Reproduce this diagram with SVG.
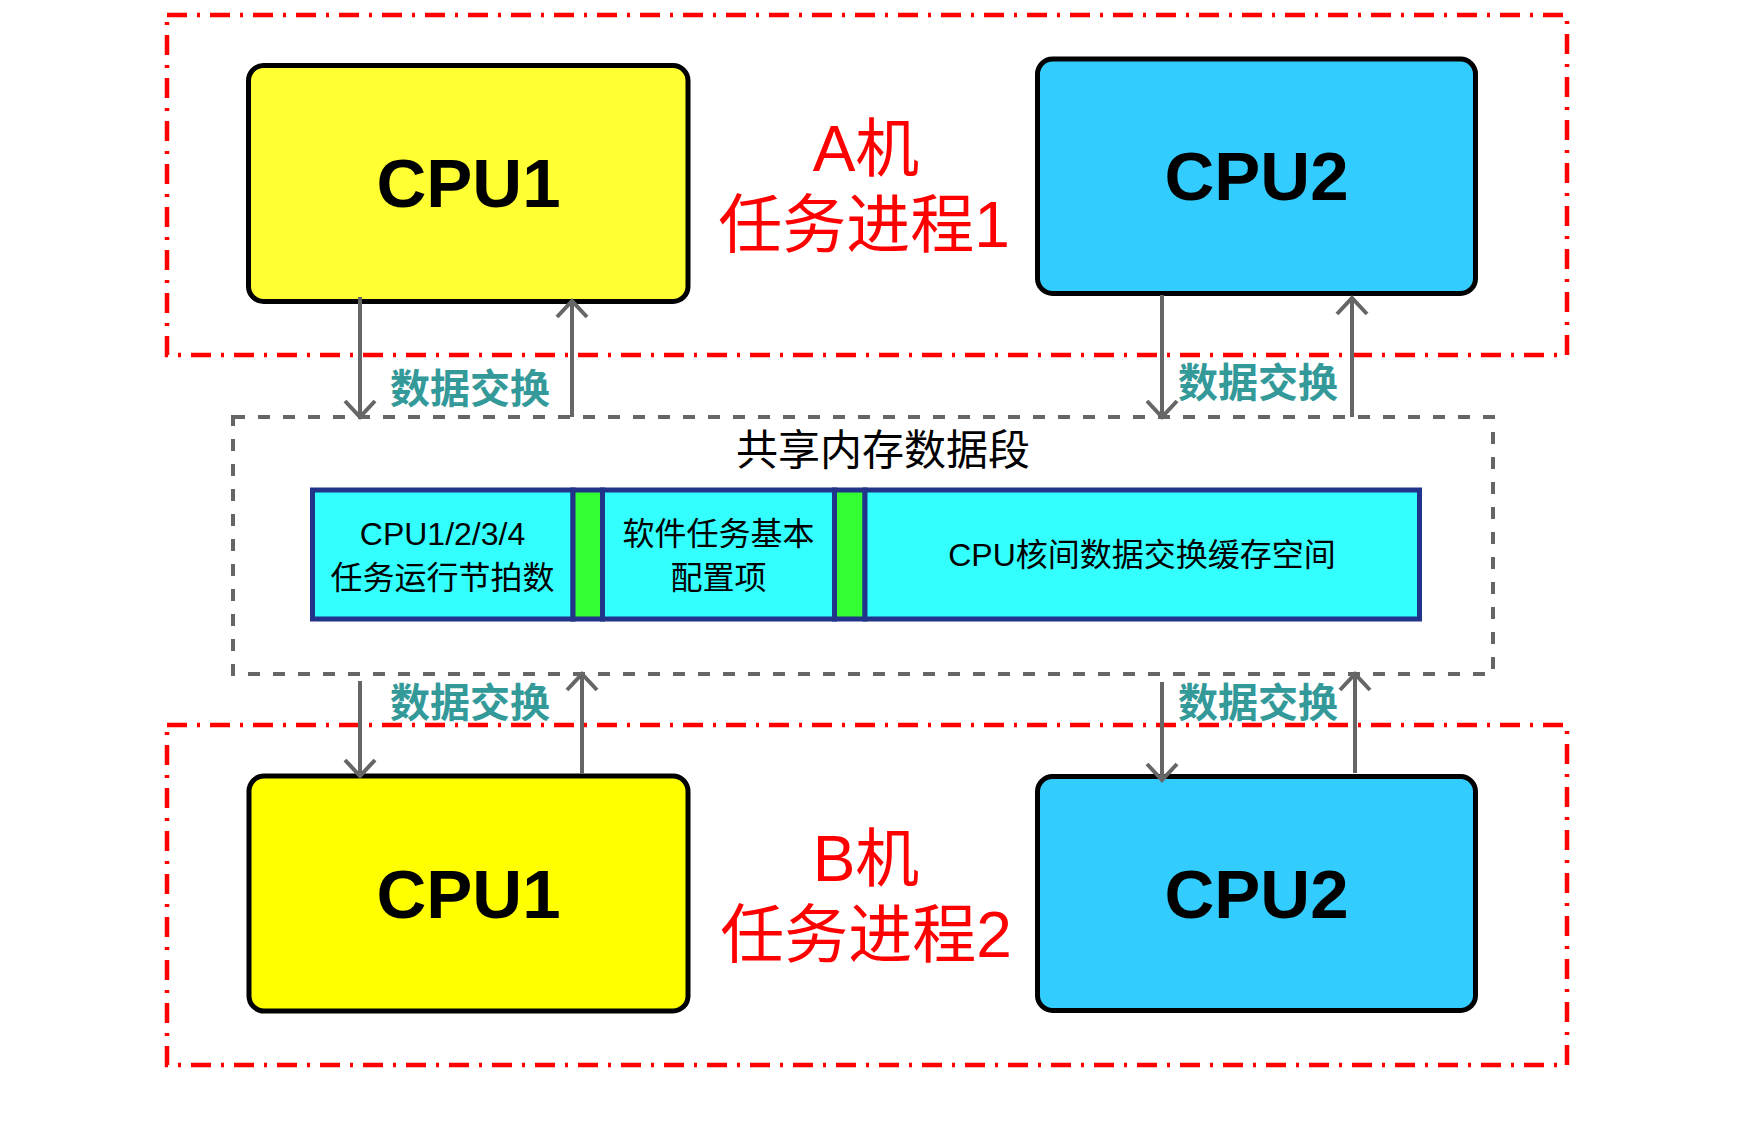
<svg xmlns="http://www.w3.org/2000/svg" width="1750" height="1125" viewBox="0 0 1750 1125">
<style>
.grp{fill:none;stroke:#ff0000;stroke-width:4.5;stroke-dasharray:20 10 3 10}
.cpu{stroke:#000;stroke-width:5}
.cpuT{font-family:"Liberation Sans",Arial,sans-serif;font-weight:bold;font-size:69px;fill:#000;text-anchor:middle}
.red{font-family:"Liberation Sans","Noto Sans CJK SC",sans-serif;font-size:64px;fill:#ff0000;text-anchor:middle}
.lbl{font-family:"Noto Sans CJK SC","Liberation Sans",sans-serif;font-weight:bold;font-size:40px;fill:#339999;text-anchor:middle}
.mem{fill:none;stroke:#666;stroke-width:4;stroke-dasharray:12 13}
.seg{fill:#33ffff;stroke:#22338a;stroke-width:5}
.grn{fill:#33ff33;stroke:#22338a;stroke-width:5}
.t32{font-family:"Liberation Sans","Noto Sans CJK SC",sans-serif;font-size:32px;fill:#000;text-anchor:middle}
.t42{font-family:"Liberation Sans","Noto Sans CJK SC",sans-serif;font-size:42px;fill:#000;text-anchor:middle}
.arr{fill:none;stroke:#666;stroke-width:4;marker-end:url(#ah)}
</style>
<defs>
<marker id="ah" markerUnits="userSpaceOnUse" markerWidth="40" markerHeight="40" viewBox="-20 -20 40 40" refX="0" refY="0" orient="auto" overflow="visible">
<path d="M-16,-15 L0,0 L-16,15" fill="none" stroke="#666" stroke-width="4"/>
</marker>
</defs>
<rect width="1750" height="1125" fill="#fff"/>

<g id="groupA">
<rect class="grp" x="167" y="15" width="1400" height="340"/>
<text class="red" x="866" y="171">A机</text>
<text class="red" x="864" y="247">任务进程1</text>
</g>
<g id="groupB">
<rect class="grp" x="167" y="725" width="1400" height="340"/>
<text class="red" x="866" y="881">B机</text>
<text class="red" x="866" y="957">任务进程2</text>
</g>

<g id="shm">
<rect class="mem" x="233" y="417" width="1260" height="257"/>
<text class="t42" x="883" y="465">共享内存数据段</text>
</g>

<g id="seg1">
<rect class="seg" x="312.5" y="490" width="260.5" height="129"/>
<text class="t32" x="442.5" y="545">CPU1/2/3/4</text>
<text class="t32" x="442.5" y="589">任务运行节拍数</text>
</g>
<g id="gap1"><rect class="grn" x="573" y="490" width="29.5" height="129"/></g>
<g id="seg2">
<rect class="seg" x="602.5" y="490" width="232" height="129"/>
<text class="t32" x="718.5" y="545">软件任务基本</text>
<text class="t32" x="718.5" y="589">配置项</text>
</g>
<g id="gap2"><rect class="grn" x="834.5" y="490" width="30.5" height="129"/></g>
<g id="seg3">
<rect class="seg" x="865" y="490" width="554.5" height="129"/>
<text class="t32" x="1142" y="566">CPU核间数据交换缓存空间</text>
</g>

<g id="cpu1A">
<rect class="cpu" x="248.5" y="65.5" width="439.5" height="236" rx="15" fill="#ffff33"/>
<text class="cpuT" x="468.5" y="207">CPU1</text>
</g>
<g id="cpu2A">
<rect class="cpu" x="1037.5" y="59" width="438" height="234.5" rx="15" fill="#33ccff"/>
<text class="cpuT" x="1256.5" y="200">CPU2</text>
</g>
<g id="cpu1B">
<rect class="cpu" x="249" y="776" width="439" height="235" rx="15" fill="#ffff00"/>
<text class="cpuT" x="468.5" y="918">CPU1</text>
</g>
<g id="cpu2B">
<rect class="cpu" x="1037.5" y="776.5" width="438" height="234" rx="15" fill="#33ccff"/>
<text class="cpuT" x="1256.5" y="918">CPU2</text>
</g>

<g id="connectors">
<path class="arr" d="M360,297 L360,417"/>
<path class="arr" d="M572,417 L572,301"/>
<path class="arr" d="M1162,295 L1162,417"/>
<path class="arr" d="M1352,417 L1352,298"/>
<path class="arr" d="M360,681 L360,776"/>
<path class="arr" d="M582,774 L582,674"/>
<path class="arr" d="M1162,682 L1162,780"/>
<path class="arr" d="M1355,773 L1355,674"/>
<text class="lbl" x="470" y="403">数据交换</text>
<text class="lbl" x="1258" y="397">数据交换</text>
<text class="lbl" x="470" y="717">数据交换</text>
<text class="lbl" x="1258" y="717">数据交换</text>
</g>
</svg>
